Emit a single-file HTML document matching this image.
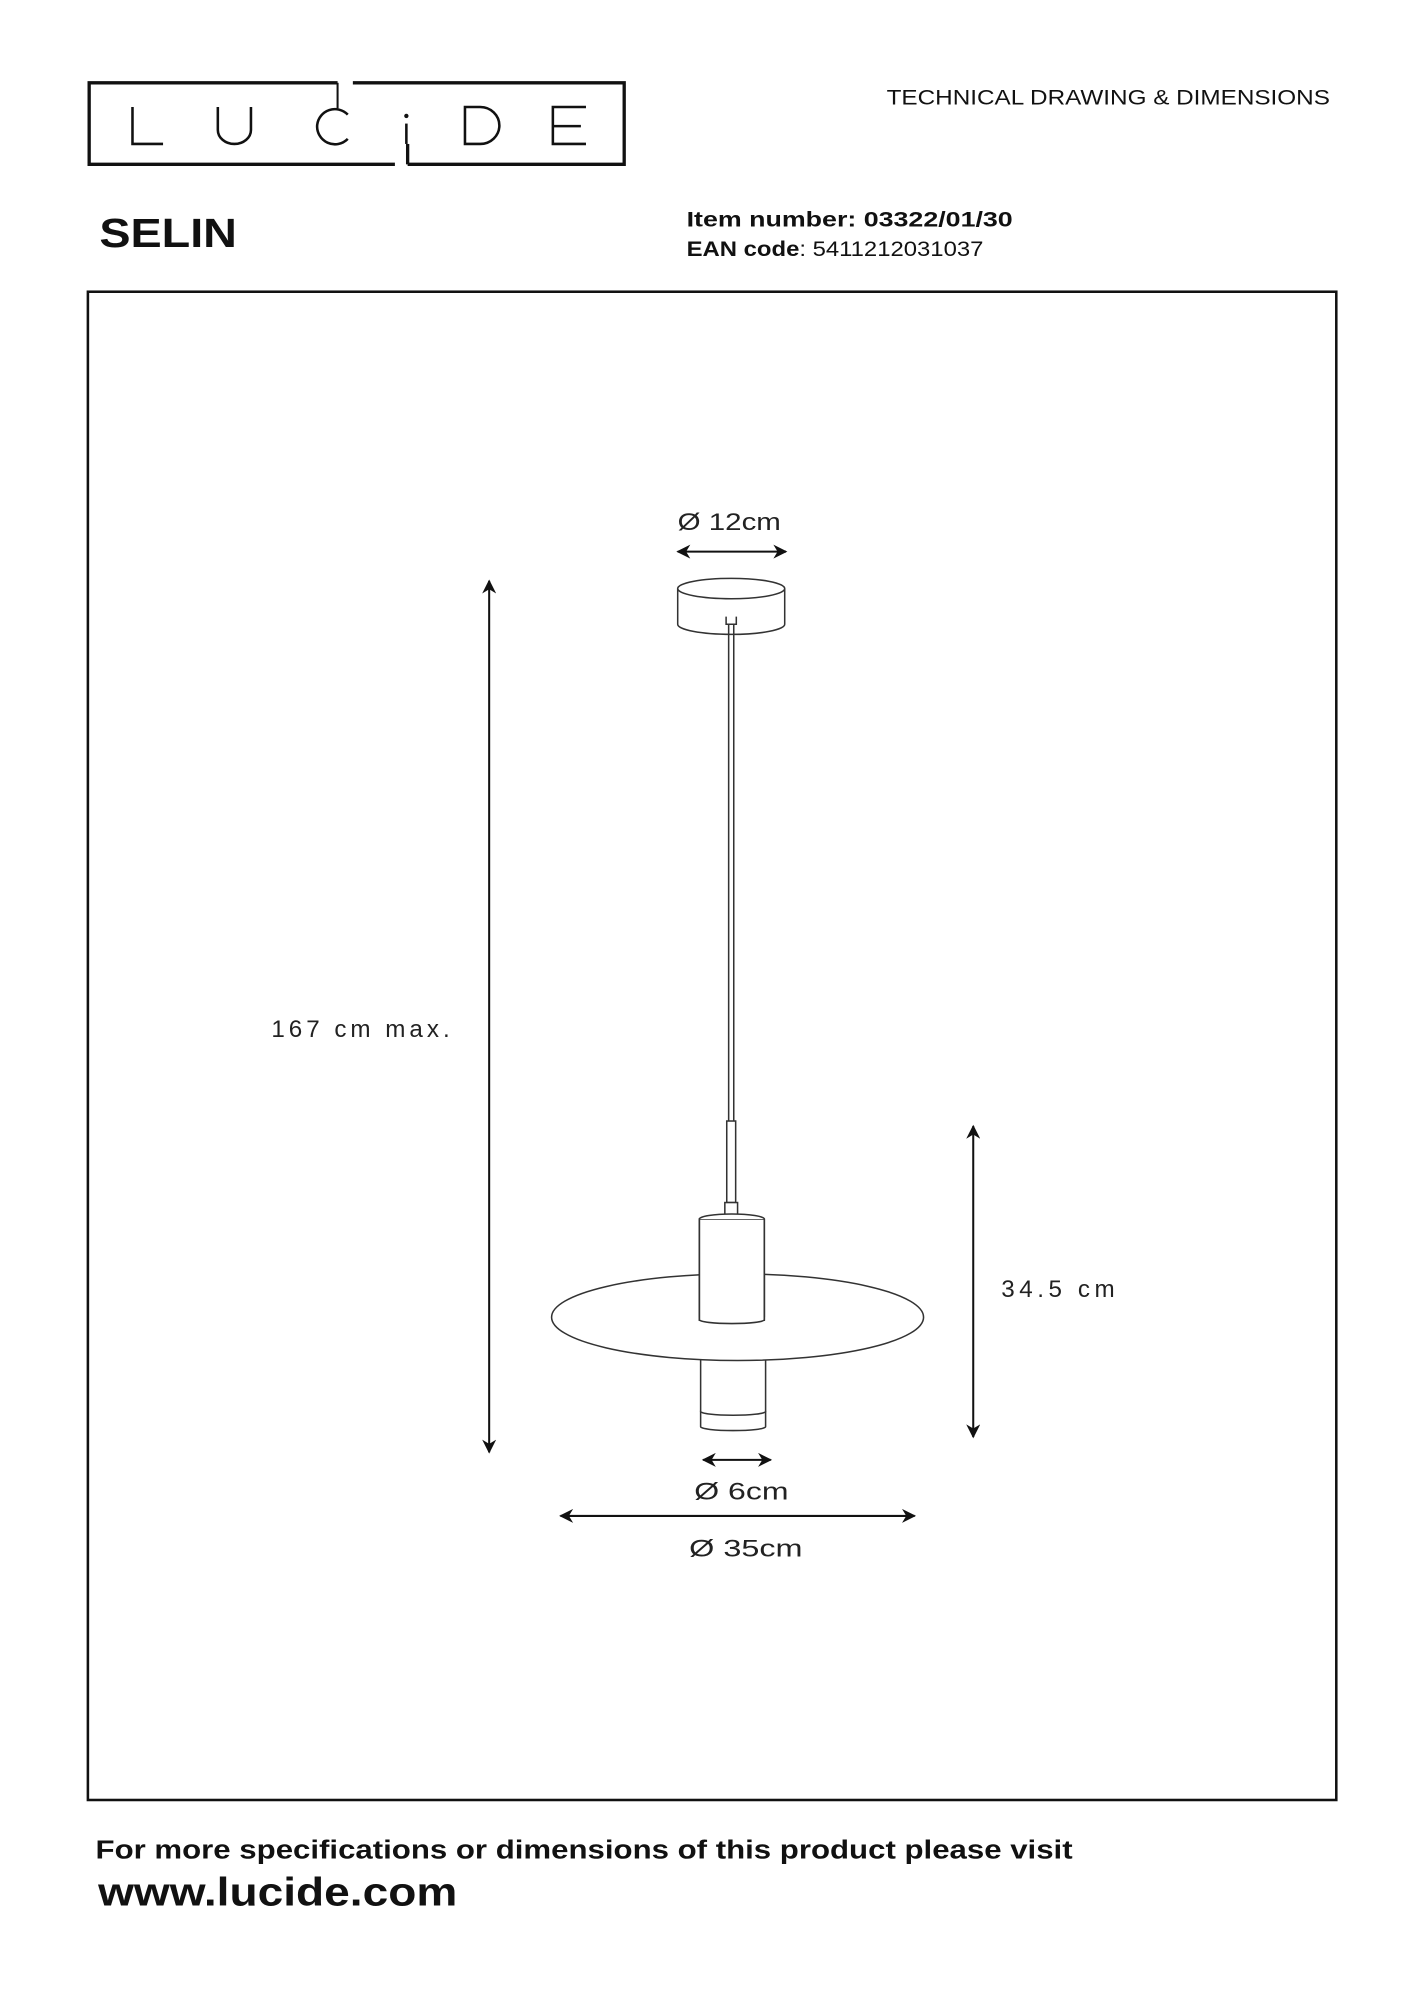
<!DOCTYPE html>
<html><head><meta charset="utf-8"><style>
html,body{margin:0;padding:0;background:#fff;}
svg{display:block;}
text{font-family:"Liberation Sans",sans-serif;}
</style></head><body>
<svg width="1414" height="2000" viewBox="0 0 1110 1570" xmlns="http://www.w3.org/2000/svg">
<defs>
<marker id="a" viewBox="0 0 10 10" refX="9" refY="5" markerWidth="13" markerHeight="11" orient="auto-start-reverse" markerUnits="userSpaceOnUse"><path d="M0,0 L10,5 L0,10 L3,5 Z" fill="#111"/></marker>
</defs>
<!-- logo -->
<g stroke="#111" stroke-width="2.6" fill="none">
<path d="M265,65 L70,65 L70,129 L310,129"/>
<path d="M277,65 L490,65 L490,129 L320,129"/>
<path d="M265,65 L265,85" stroke-width="1.6"/>
<path d="M320,129 L320,113"/>
</g>
<g stroke="#111" stroke-width="2" fill="none">
<path d="M104,84 L104,113 L128,113"/>
<path d="M171,84 L171,102 A13,11 0 0 0 197,102 L197,84"/>
<path d="M273,90 A14,14 0 0 0 249,98 A14,14 0 0 0 273,109"/>
<path d="M319,97 L319,113"/>
<path d="M365,84 L365,113 L377,113 A15,14.5 0 0 0 377,84 Z"/>
<path d="M460,84 L434,84 L434,113 L460,113 M434,99 L456,99"/>
</g>
<circle cx="319" cy="91" r="1.7" fill="#111"/>
<text x="1044" y="82" font-size="16.5" text-anchor="end" fill="#111" textLength="348" lengthAdjust="spacingAndGlyphs">TECHNICAL DRAWING &amp; DIMENSIONS</text>
<text x="78" y="194" font-size="32" font-weight="bold" fill="#111" textLength="108" lengthAdjust="spacingAndGlyphs">SELIN</text>
<text x="539" y="178" font-size="16.5" font-weight="bold" fill="#111" textLength="256" lengthAdjust="spacingAndGlyphs">Item number: 03322/01/30</text>
<text x="539" y="201" font-size="16.5" fill="#111" textLength="233" lengthAdjust="spacingAndGlyphs"><tspan font-weight="bold">EAN code</tspan>: 5411212031037</text>
<rect x="69" y="229" width="980" height="1184" fill="none" stroke="#111" stroke-width="2"/>
<g stroke="#111" stroke-width="1.6" fill="none">
<line x1="532" y1="433" x2="617" y2="433" marker-start="url(#a)" marker-end="url(#a)"/>
<line x1="384" y1="456" x2="384" y2="1140" marker-start="url(#a)" marker-end="url(#a)"/>
<line x1="764" y1="884" x2="764" y2="1128" marker-start="url(#a)" marker-end="url(#a)"/>
<line x1="552" y1="1146" x2="605" y2="1146" marker-start="url(#a)" marker-end="url(#a)"/>
<line x1="440" y1="1190" x2="718" y2="1190" marker-start="url(#a)" marker-end="url(#a)"/>
</g>
<g font-size="19" fill="#222">
<text x="532" y="416" textLength="81" lengthAdjust="spacingAndGlyphs">Ø 12cm</text>
<text x="213" y="814" textLength="140" lengthAdjust="spacing">167 cm max.</text>
<text x="786" y="1018" textLength="89" lengthAdjust="spacing">34.5 cm</text>
<text x="545" y="1177" textLength="74" lengthAdjust="spacingAndGlyphs">Ø 6cm</text>
<text x="541" y="1222" textLength="89" lengthAdjust="spacingAndGlyphs">Ø 35cm</text>
</g>
<g stroke="#333" stroke-width="1.2" fill="#fff">
<path d="M532,462 L532,490 A42,8 0 0 0 616,490 L616,462"/>
<ellipse cx="574" cy="462" rx="42" ry="8"/>
<path d="M570,484 L570,490 L578,490 L578,484" />
<line x1="572" y1="490" x2="572" y2="880"/>
<line x1="576" y1="490" x2="576" y2="880"/>
<rect x="570.5" y="880" width="7" height="64"/>
<rect x="569" y="944" width="10" height="10"/>
<path d="M550,1120 L550,1108 L601,1108 L601,1120 A25.5,3 0 0 1 550,1120 Z"/>
<path d="M550,1108 L550,1050 L601,1050 L601,1108 A25.5,3 0 0 1 550,1108"/>
<ellipse cx="579" cy="1034" rx="146" ry="34"/>
<path d="M549,1034 L549,957 L600,957 L600,1034"/>
<path d="M549,957 A25.5,4 0 0 1 600,957"/>
<path d="M549,1000 L549,1036 A25.5,3 0 0 0 600,1036 L600,1000" fill="#fff"/>
<line x1="549" y1="957" x2="549" y2="1037"/>
<line x1="600" y1="957" x2="600" y2="1037"/>
</g>
<text x="75" y="1459" font-size="20" font-weight="bold" fill="#111" textLength="767" lengthAdjust="spacingAndGlyphs">For more specifications or dimensions of this product please visit</text>
<text x="77" y="1496" font-size="31" font-weight="bold" fill="#111" textLength="282" lengthAdjust="spacingAndGlyphs">www.lucide.com</text>
</svg>
</body></html>
